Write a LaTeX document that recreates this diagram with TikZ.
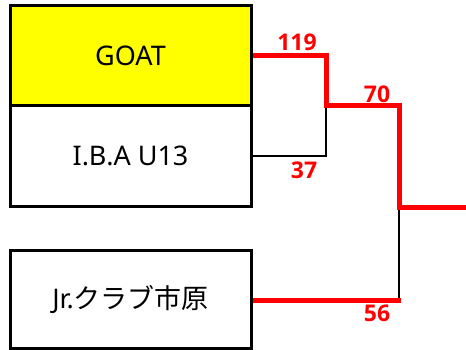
\documentclass[tikz,border=0pt]{standalone}
\usepackage{fontspec}
\setmainfont{Noto Sans}
\newfontfamily\cjk{Noto Sans CJK JP}
\newfontfamily\scorefont{Open Sans}
\definecolor{puryellow}{RGB}{255,255,0}
\definecolor{purred}{RGB}{255,0,0}
\begin{document}
\begin{tikzpicture}[x=1pt,y=-1pt,
  team/.style={draw=black,line width=3pt,minimum width=241pt,minimum height=100pt,inner sep=0pt,font=\fontsize{27}{30}\selectfont},
  win/.style={draw=purred,line width=5pt},
  lose/.style={draw=black,line width=2.5pt},
  score/.style={text=purred,font=\scorefont\bfseries\fontsize{23}{26}\selectfont,inner sep=0pt}]
\useasboundingbox (0,0) rectangle (466,350);
\node[team,fill=puryellow] (goat) at (130.5,56) {GOAT};
\node[team] (iba) at (130.5,156) {I.B.A U13};
\node[team,minimum height=98pt] (jr) at (130.5,299) {Jr.{\cjk クラブ市原}};
\coordinate (m1) at (326,106);
\coordinate (m2) at (399,207);
\coordinate (fin) at (466,207);
\draw[lose] (iba.east |- 0,156) -| (m1);
\draw[lose] (m2) -- (399,300);
\draw[win] (goat.east) -| (m1) -| (m2) -- (fin);
\draw[win] (jr.east |- 0,300) -- (401,300);
\node[score] (s1) at (297,42) {119};
\node[score] (s2) at (377,94) {70};
\node[score] (s3) at (304,170) {37};
\node[score] (s4) at (377,313) {56};
\end{tikzpicture}
\end{document}
